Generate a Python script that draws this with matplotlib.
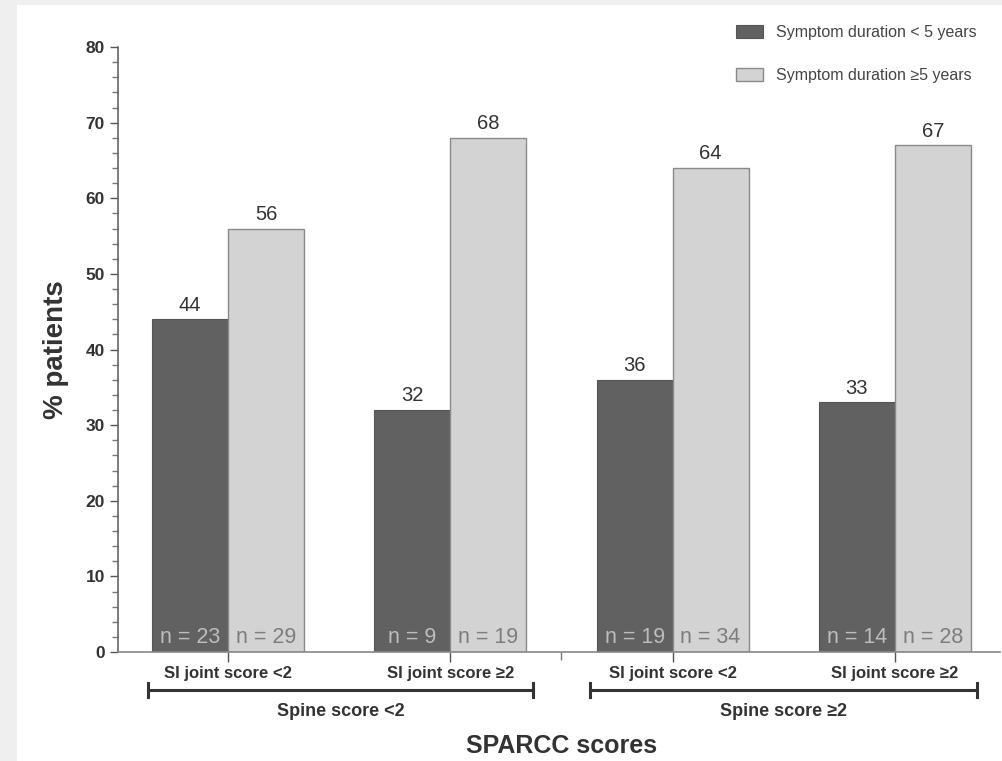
import numpy as np
import matplotlib.pyplot as plt
from matplotlib.patches import Rectangle

plt.rcParams['font.family'] = ['Liberation Sans', 'DejaVu Sans']

# data
si_labels = ["SI joint score <2", "SI joint score \u22652", "SI joint score <2", "SI joint score \u22652"]
spine_labels = ["Spine score <2", "Spine score \u22652"]
short_vals = [44, 32, 36, 33]
long_vals = [56, 68, 64, 67]
short_n = [23, 9, 19, 14]
long_n = [29, 19, 34, 28]
series = ["Symptom duration < 5 years", "Symptom duration \u22655 years"]

dark = "#616161"
light = "#d3d3d3"

fig = plt.figure(figsize=(10.02, 7.61), dpi=100, facecolor="#efefef")
fig.patches.append(Rectangle((17 / 1002, 0), 1, 1 - 5 / 761, transform=fig.transFigure,
                             facecolor="white", edgecolor="none", zorder=-1))
ax = fig.add_axes([118 / 1002, 1 - 652 / 761, 882 / 1002, 605 / 761])
ax.set_facecolor("none")

x = np.arange(len(si_labels))
w = 0.342
ax.bar(x - w / 2, short_vals, w, color=dark, edgecolor="#555555", linewidth=0.8, label=series[0])
ax.bar(x + w / 2, long_vals, w, color=light, edgecolor="#8a8a8a", linewidth=1.0, label=series[1])

for xi, v in zip(x, short_vals):
    ax.text(xi - w / 2, v + 0.6, str(v), ha="center", va="bottom", fontsize=14.5, color="#333333")
for xi, v in zip(x, long_vals):
    ax.text(xi + w / 2, v + 0.6, str(v), ha="center", va="bottom", fontsize=14.5, color="#333333")
for xi, n in zip(x, short_n):
    ax.text(xi - w / 2, 0.5, f"n = {n}", ha="center", va="bottom", fontsize=15.5, color="#bdbdbd")
for xi, n in zip(x, long_n):
    ax.text(xi + w / 2, 0.5, f"n = {n}", ha="center", va="bottom", fontsize=15.5, color="#7d7d7d")

ax.set_xlim(-0.495, 3.473)
ax.set_ylim(0, 80)
ax.set_yticks(np.arange(0, 81, 10))
ax.set_yticks(np.arange(0, 81, 2), minor=True)
ax.set_xticks(x)
ax.set_xticklabels(si_labels, fontsize=12, fontweight="bold", color="#333333")
ax.set_xticks([1.5], minor=True)
ax.tick_params(axis="y", which="major", length=6, width=1, colors="#555555", labelsize=12.5, labelcolor="#333333")
ax.tick_params(axis="y", which="minor", length=4, width=1, colors="#777777")
ax.tick_params(axis="x", which="major", length=7, width=1, colors="#555555", pad=3, labelcolor="#333333")
ax.tick_params(axis="x", which="minor", length=6, width=1, colors="#777777")
for lab in ax.get_yticklabels():
    lab.set_fontweight("bold")
for s in ["top", "right"]:
    ax.spines[s].set_visible(False)
ax.spines["left"].set_color("#666666")
ax.spines["bottom"].set_color("#888888")
ax.spines["left"].set_linewidth(1.2)
ax.spines["bottom"].set_linewidth(1.2)

# group brackets
tr = ax.get_xaxis_transform()
for (x0, x1), lab in zip([(-0.36, 1.372), (1.628, 3.369)], spine_labels):
    ax.plot([x0, x1], [-0.063, -0.063], transform=tr, color="#333333", lw=2.2, clip_on=False)
    for xe in (x0, x1):
        ax.plot([xe, xe], [-0.075, -0.051], transform=tr, color="#333333", lw=2.2, clip_on=False)
    ax.text((x0 + x1) / 2, -0.099, lab, transform=tr, ha="center", va="center",
            fontsize=13, fontweight="bold", color="#333333")

ax.text(1.5, -0.155, "SPARCC scores", transform=tr, ha="center", va="center",
        fontsize=18, fontweight="bold", color="#333333")
ax.set_ylabel("% patients", fontsize=20, fontweight="bold", color="#333333", labelpad=12)

leg = ax.legend(loc="upper right", bbox_to_anchor=(0.99, 1.06), frameon=False, fontsize=11.5,
                handlelength=1.7, handleheight=0.8, labelspacing=1.75, handletextpad=0.8)
for t in leg.get_texts():
    t.set_color("#444444")

fig.savefig("out.png", dpi=100, facecolor=fig.get_facecolor())
